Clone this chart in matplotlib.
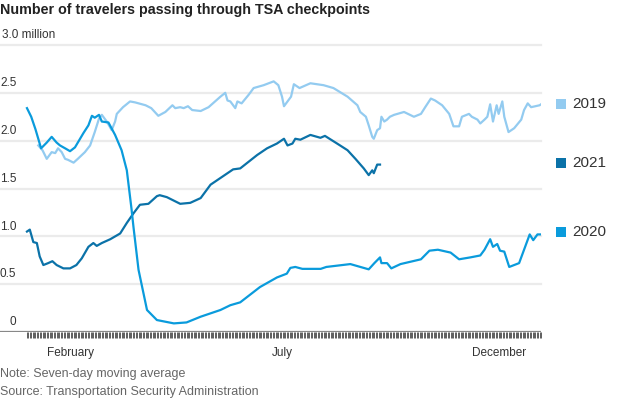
import matplotlib
matplotlib.use('Agg')
import matplotlib.pyplot as plt

plt.rcParams['font.family'] = ['Liberation Sans', 'DejaVu Sans']

# day of year (0 = Jan 1) and millions of travelers
days19 = [8, 11, 14, 17.5, 20, 22, 24.6, 27, 29, 33, 36, 41, 44.7, 48, 51, 53, 56.5, 60, 62.4,
          63.6, 68, 73, 76.6, 84, 88, 93, 98, 103, 105, 108.5, 111, 114, 117, 123, 128.6, 137,
          140.4, 142, 144, 147.5, 149, 152, 157, 160.5, 167.6, 174.7, 178, 180.6, 182, 185, 187,
          189, 193, 200.7, 210, 217, 227, 234, 236, 240, 242, 244.5, 245.6, 248, 250, 251, 253,
          255, 257, 260, 267, 274, 279, 282, 286, 289, 294, 299, 302, 306, 308, 313, 315, 319,
          321, 324, 326, 328, 330, 332.6, 334, 336.6, 338, 341, 345, 350, 352, 354.6, 357, 363, 364]
vals19 = [1.95, 1.90, 1.81, 1.88, 1.87, 1.92, 1.88, 1.81, 1.80, 1.77, 1.81, 1.88, 1.95, 2.09, 2.23,
          2.27, 2.20, 2.11, 2.20, 2.28, 2.35, 2.41, 2.40, 2.37, 2.34, 2.26, 2.30, 2.37, 2.34, 2.35,
          2.34, 2.36, 2.32, 2.31, 2.35, 2.46, 2.50, 2.42, 2.41, 2.34, 2.41, 2.39, 2.48, 2.55, 2.58,
          2.62, 2.58, 2.46, 2.36, 2.42, 2.46, 2.59, 2.55, 2.60, 2.58, 2.55, 2.46, 2.37, 2.30, 2.25,
          2.16, 2.04, 2.02, 2.11, 2.13, 2.25, 2.20, 2.22, 2.25, 2.27, 2.30, 2.25, 2.28, 2.35, 2.44,
          2.42, 2.37, 2.28, 2.15, 2.15, 2.25, 2.28, 2.25, 2.22, 2.18, 2.22, 2.25, 2.38, 2.20, 2.37,
          2.28, 2.41, 2.25, 2.09, 2.13, 2.22, 2.32, 2.39, 2.35, 2.37, 2.38]

days20 = [0, 3, 6, 10, 14, 17.5, 21, 23.4, 27, 30.5, 34, 40, 43.5, 46, 48, 51, 53, 57.7, 62.4, 67,
          70.7, 74, 75.4, 79, 85, 92, 104, 113, 123, 137, 144, 151, 165, 177, 184, 186.5, 190,
          195, 208, 212, 229, 242, 246, 250, 251, 255, 258, 264.5, 279, 285, 291, 300, 306, 314,
          321, 324, 328, 330, 333, 335, 338, 341.5, 348.5, 351.5, 356, 358.5, 361.5, 364]
vals20 = [2.34, 2.25, 2.12, 1.92, 1.98, 2.04, 1.98, 1.95, 1.92, 1.89, 1.93, 2.08, 2.16, 2.26, 2.24,
          2.27, 2.20, 2.19, 2.06, 1.90, 1.69, 1.29, 1.10, 0.65, 0.23, 0.125, 0.09, 0.10, 0.16, 0.23,
          0.28, 0.31, 0.47, 0.57, 0.61, 0.67, 0.68, 0.66, 0.66, 0.68, 0.71, 0.655, 0.72, 0.78, 0.72,
          0.72, 0.665, 0.71, 0.76, 0.85, 0.86, 0.83, 0.76, 0.78, 0.80, 0.86, 0.97, 0.89, 0.92, 0.85,
          0.84, 0.68, 0.72, 0.84, 1.02, 0.96, 1.02, 1.02]

days21 = [0, 2, 4.5, 7, 9, 11.6, 15, 18, 21, 25.8, 30.5, 35, 38.8, 43.5, 47, 49.4, 53, 59, 66,
          70.7, 75.4, 80, 86, 92, 94, 99, 108.5, 115.6, 123, 130, 137, 146, 151, 157, 163, 170,
          177, 182, 184.5, 188, 190, 193.6, 200.7, 207.8, 211, 219.6, 227, 232.6, 238.5, 242,
          244.5, 245.6, 248, 250]
vals21 = [1.05, 1.07, 0.94, 0.93, 0.79, 0.70, 0.72, 0.74, 0.70, 0.665, 0.665, 0.70, 0.77, 0.89,
          0.93, 0.90, 0.93, 0.97, 1.03, 1.14, 1.24, 1.33, 1.34, 1.42, 1.43, 1.41, 1.34, 1.35, 1.40,
          1.54, 1.61, 1.70, 1.71, 1.78, 1.85, 1.92, 1.97, 2.02, 1.95, 1.97, 2.02, 2.01, 2.06, 2.03,
          2.05, 1.97, 1.90, 1.81, 1.71, 1.64, 1.69, 1.66, 1.75, 1.75]

series = ['2019', '2021', '2020']
colors = {'2019': '#93cbf0', '2020': '#0a9bdc', '2021': '#0b72a8'}
month_days = [31, 181, 334]
month_names = ['February', 'July', 'December']
yticks = [0, 0.5, 1.0, 1.5, 2.0, 2.5, 3.0]
ylabels = ['0', '0.5', '1.0', '1.5', '2.0', '2.5', '3.0 million']

fig = plt.figure(figsize=(6.2, 4), dpi=100)
ax = fig.add_axes([0, 1 - 332 / 400, 541 / 620, (332 - 45) / 400])
ax.set_xlim(-19.1, 364)
ax.set_ylim(0, 3.0)

for y in yticks[1:]:
    ax.axhline(y, color='#ebebeb', lw=1.6, zorder=0, clip_on=False)
ax.axhline(0, color='#888888', lw=1.6, zorder=1)

ax.plot(days19, vals19, color=colors['2019'], lw=1.6, zorder=2)
ax.plot(days21, vals21, color=colors['2021'], lw=1.6, zorder=3)
ax.plot(days20, vals20, color=colors['2020'], lw=1.6, zorder=4)

for y, lab in zip(yticks, ylabels):
    if lab.endswith('million'):
        ax.text(-19.1 + 1.2, y + 0.04, lab, ha='left', va='bottom', fontsize=8.5, color='#333333')
    else:
        ax.text(-7.5, y + 0.04, lab, ha='right', va='bottom', fontsize=8.5, color='#333333')

# legend labels at the end of each line
ends = {'2019': vals19[-1], '2021': vals21[-1] + 0.02, '2020': vals20[-1] + 0.03}
for s in series:
    ax.scatter([378], [ends[s]], marker='s', s=55, color=colors[s], clip_on=False, lw=0)
    ax.text(386, ends[s], s, ha='left', va='center', fontsize=11, color='#333333')

ax.set_yticks([])
ax.set_xticks(month_days)
ax.set_xticklabels(month_names)
ax.set_xticks(range(0, 365), minor=True)
ax.tick_params(axis='x', which='both', length=4, width=0.6, color='#444444')
ax.tick_params(axis='x', which='major', pad=7, labelsize=8.5, labelcolor='#333333')
for side in ['top', 'right', 'left', 'bottom']:
    ax.spines[side].set_visible(False)

fig.text(0.0, 1 - 10 / 400, 'Number of travelers passing through TSA checkpoints',
         ha='left', va='center', fontsize=10.3, fontweight='bold', color='#222222')
fig.text(0.0, 1 - 374 / 400, 'Note: Seven-day moving average', ha='left', va='center',
         fontsize=9, color='#666666')
fig.text(0.0, 1 - 392 / 400, 'Source: Transportation Security Administration', ha='left',
         va='center', fontsize=9, color='#666666')

fig.savefig('out.png', dpi=100)
